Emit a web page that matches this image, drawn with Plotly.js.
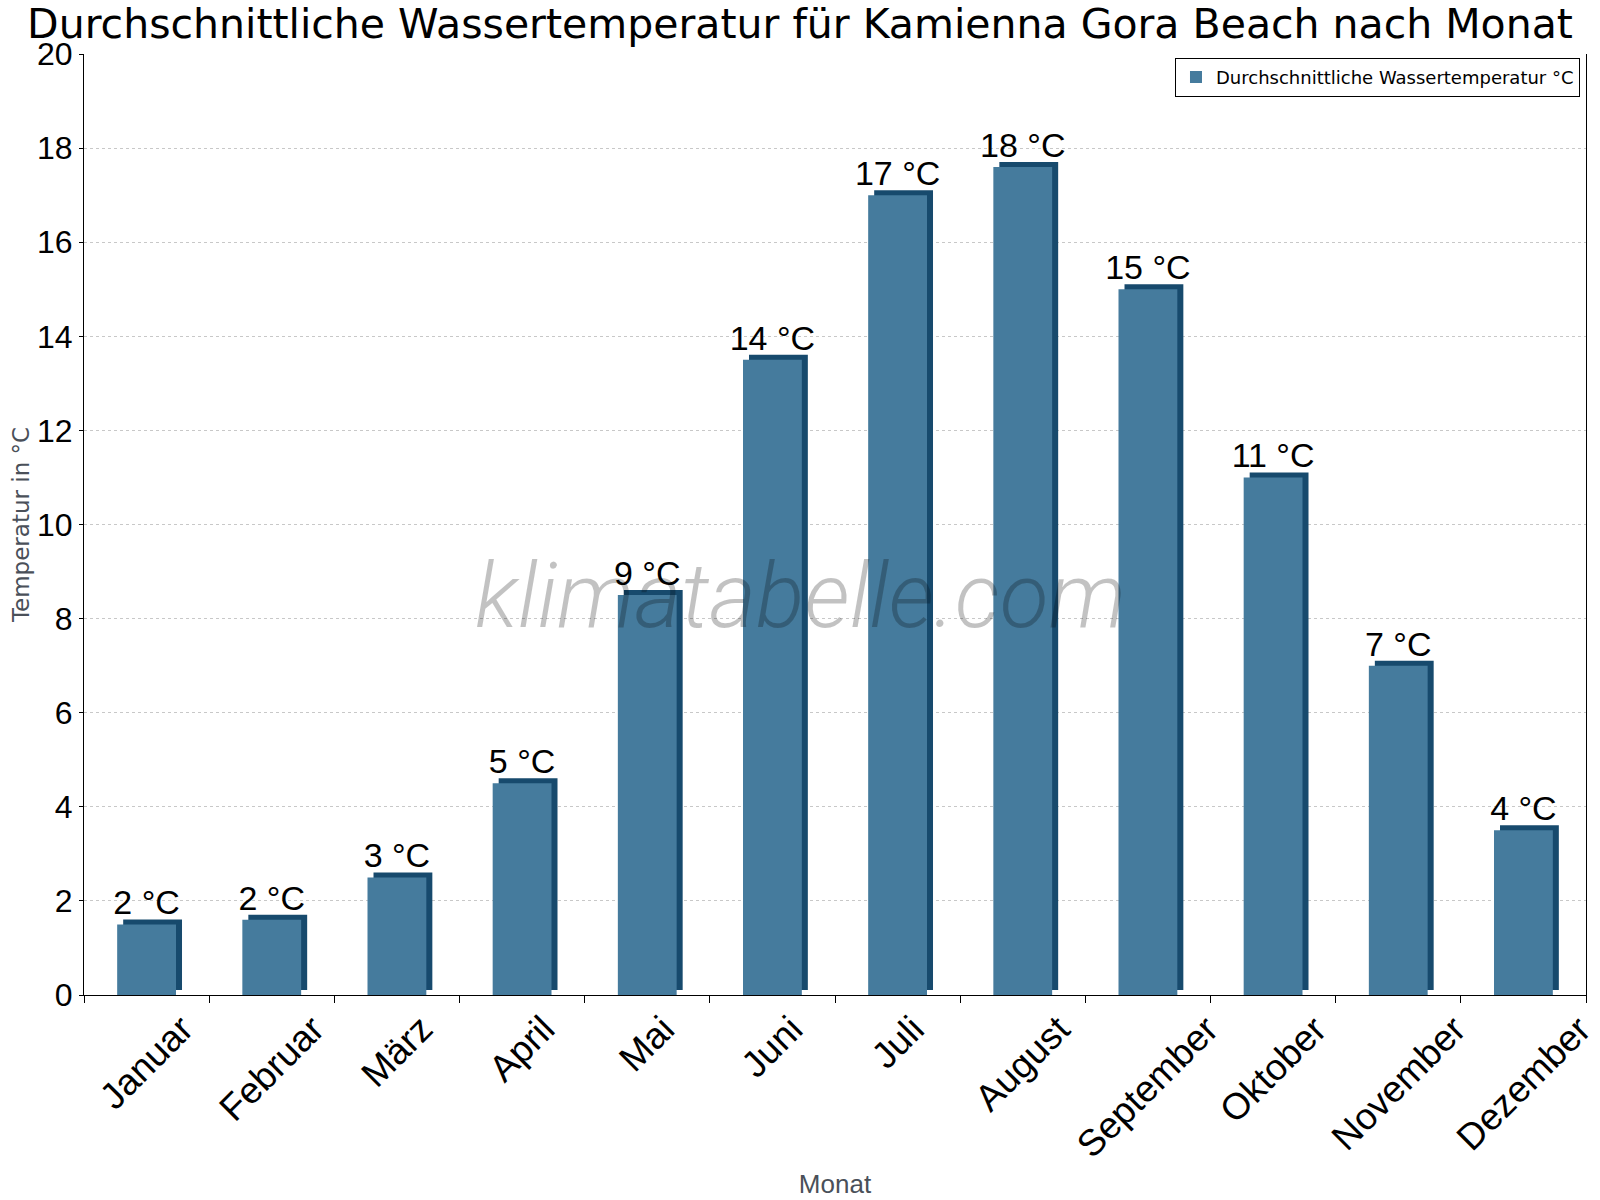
<!DOCTYPE html>
<html>
<head>
<meta charset="utf-8">
<script src="https://cdn.plot.ly/plotly-3.0.1.min.js"></script>
<style>html,body{margin:0;padding:0;background:#fff;}#chart{width:1600px;height:1200px;}</style>
</head>
<body>
<div id="chart"></div>
<script>
// ---- data ----
const months = ["Januar","Februar","März","April","Mai","Juni","Juli","August","September","Oktober","November","Dezember"];
const waterTemp = [1.5, 1.6, 2.5, 4.5, 8.5, 13.5, 17, 17.6, 15, 11, 7, 3.5];
const seriesName = "Durchschnittliche Wassertemperatur °C";
const chartTitle = "Durchschnittliche Wassertemperatur für Kamienna Gora Beach nach Monat";
const yTitle = "Temperatur in °C";
const xTitle = "Monat";
const watermark = "klimatabelle.com";

// ---- style ----
const faceColor = "#457b9d";
const sideColor = "#174a6d";
const barW = 0.47;
const depthX = 0.048;   // ~6px in category units
const depthY = 0.106;   // ~5px in data units
const sans = "Liberation Sans, Arial, sans-serif";
const wide = "DejaVu Sans, sans-serif";

const sideTrace = {
  type: "bar", x: months, y: waterTemp, base: depthY,
  width: barW, offset: -barW/2 + depthX,
  marker: {color: sideColor, line: {width: 0}},
  showlegend: false, hoverinfo: "skip"
};
const faceTrace = {
  type: "bar", x: months, y: waterTemp, name: seriesName,
  width: barW, offset: -barW/2,
  marker: {color: faceColor, line: {width: 0}},
  texttemplate: "%{y:.0f} °C", textposition: "outside", constraintext: "none",
  textfont: {family: sans, size: 34, color: "#000"},
  cliponaxis: false
};

// month labels: rotated -45°, centred under each category (as in the reference)
const monthLabels = months.map(m => ({
  text: m, xref: "x", yref: "paper", x: m, y: -0.011,
  xanchor: "center", yanchor: "top", showarrow: false, textangle: -45,
  font: {family: sans, size: 37, color: "#000"}
}));

const layout = {
  width: 1600, height: 1200,
  margin: {l: 84, r: 14, t: 54, b: 205},
  paper_bgcolor: "#fff", plot_bgcolor: "#fff",
  barmode: "overlay",
  font: {family: sans, color: "#000"},
  title: {
    text: chartTitle,
    font: {family: wide, size: 41, color: "#000"},
    x: 0.5, xanchor: "center", xref: "container",
    y: 0.98, yanchor: "middle", yref: "container"
  },
  xaxis: {
    type: "category", range: [-0.5, months.length - 0.5], autorange: false,
    showline: true, linecolor: "#000", linewidth: 1,
    ticks: "outside", tickson: "boundaries", ticklen: 7, tickcolor: "#000",
    showticklabels: false,
    showgrid: false,
    title: {text: xTitle, font: {family: sans, size: 26, color: "#4a5059"}, standoff: 179}
  },
  yaxis: {
    range: [0, 20], autorange: false, dtick: 2,
    showline: true, mirror: true, linecolor: "#000", linewidth: 1,
    ticks: "outside", ticklen: 4, tickcolor: "#000",
    tickfont: {family: sans, size: 32, color: "#000"},
    showgrid: true, gridcolor: "#c8c8c8", griddash: "dot", gridwidth: 1,
    zeroline: false,
    title: {text: yTitle, font: {family: wide, size: 23, color: "#4a5059"}, standoff: 0}
  },
  legend: {
    x: 0.996, xanchor: "right", y: 0.996, yanchor: "top",
    bordercolor: "#000", borderwidth: 1, bgcolor: "#fff",
    font: {family: wide, size: 18, color: "#000"}
  },
  showlegend: true,
  annotations: monthLabels.concat([{
    text: watermark, xref: "paper", yref: "paper", x: 0.477, y: 0.423,
    xanchor: "center", yanchor: "middle", showarrow: false,
    font: {family: "Roboto Light, Roboto, Liberation Sans, sans-serif", size: 90, color: "rgba(0,0,0,0.24)", style: "italic", weight: 300}
  }])
};

Plotly.newPlot("chart", [sideTrace, faceTrace], layout, {displayModeBar: false, staticPlot: true});
</script>
</body>
</html>
